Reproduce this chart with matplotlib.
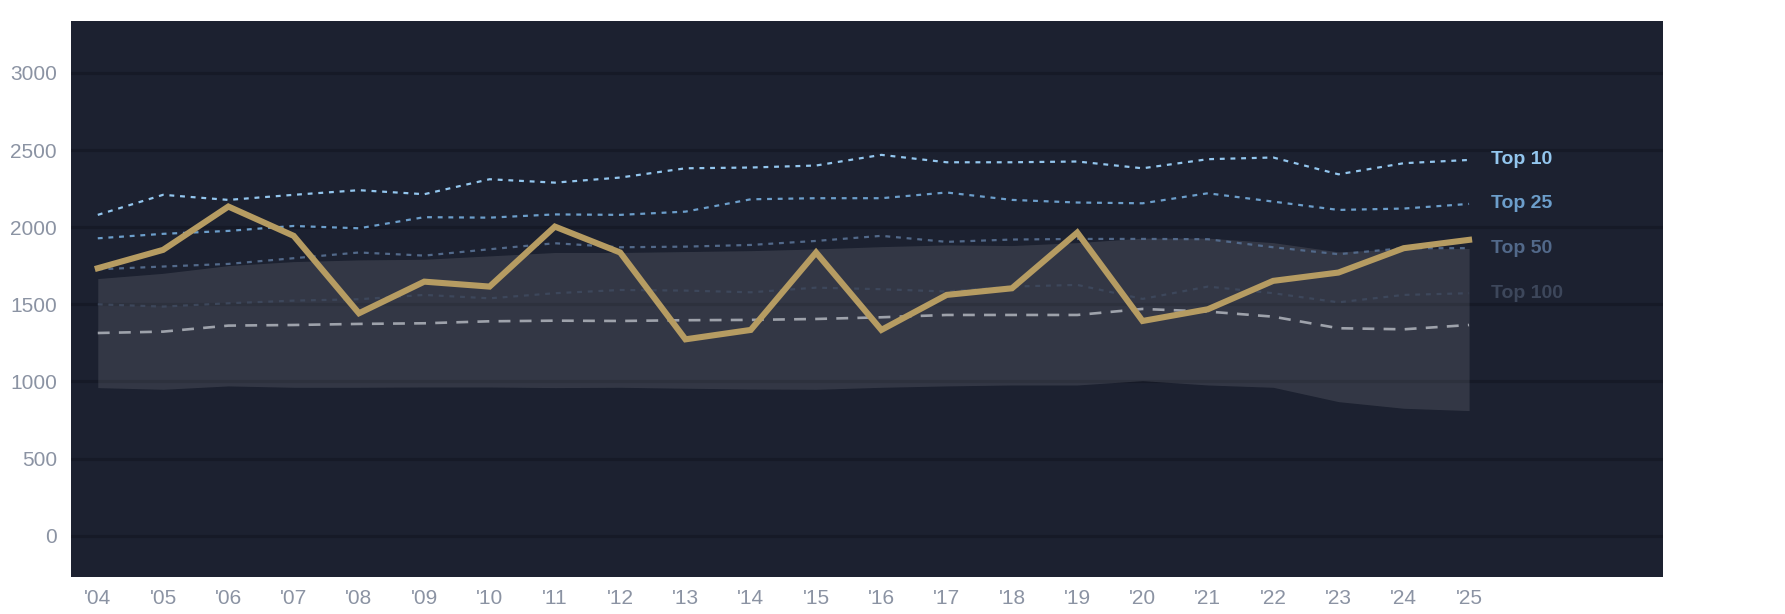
import numpy as np
import matplotlib
matplotlib.use("Agg")
import matplotlib.pyplot as plt

plt.rcParams["font.family"] = ["Liberation Sans", "DejaVu Sans"]

years = list(range(2004, 2026))
year_labels = ["'{:02d}".format(y % 100) for y in years]

top10 = [2080, 2210, 2177, 2210, 2240, 2214, 2311, 2289, 2322, 2382, 2387,
         2400, 2469, 2421, 2421, 2426, 2382, 2441, 2452, 2343, 2415, 2436]
top25 = [1928, 1957, 1976, 2008, 1993, 2065, 2062, 2083, 2080, 2101, 2181,
         2188, 2188, 2225, 2177, 2160, 2155, 2220, 2166, 2112, 2121, 2151]
top50 = [1727, 1745, 1762, 1799, 1836, 1816, 1857, 1896, 1870, 1874, 1885,
         1911, 1944, 1905, 1920, 1924, 1924, 1922, 1870, 1825, 1864, 1864]
top100 = [1500, 1485, 1507, 1524, 1533, 1561, 1539, 1572, 1593, 1589, 1578,
          1608, 1598, 1583, 1615, 1626, 1535, 1615, 1572, 1513, 1561, 1572]
median = [1314, 1323, 1362, 1366, 1373, 1377, 1390, 1394, 1392, 1397, 1399,
          1405, 1416, 1431, 1431, 1431, 1470, 1453, 1420, 1345, 1338, 1366]
band_hi = [1667, 1701, 1751, 1777, 1788, 1792, 1814, 1836, 1836, 1842, 1848,
           1859, 1874, 1885, 1881, 1900, 1929, 1929, 1900, 1840, 1860, 1862]
band_lo = [960, 949, 971, 962, 962, 964, 964, 960, 962, 956, 951,
           949, 962, 971, 977, 977, 1005, 977, 962, 869, 826, 811]
player = [1734, 1853, 2134, 1944, 1442, 1647, 1615, 2004, 1836, 1273, 1334,
          1836, 1334, 1561, 1604, 1965, 1392, 1468, 1652, 1706, 1864, 1918]

tier_names = ["Top 10", "Top 25", "Top 50", "Top 100"]
tier_colors = ["#93c6ee", "#6c9ecb", "#52698a", "#3d475b"]

bg = "#1c2130"
fig = plt.figure(figsize=(17.85, 6.14), dpi=100)
ax = fig.add_axes([71 / 1785, 1 - 577 / 614, 1592 / 1785, 556 / 614])
ax.set_facecolor(bg)

ax.fill_between(years, band_lo, band_hi, color="white", alpha=0.1, lw=0, zorder=2)

for vals, col in zip([top10, top25, top50, top100], tier_colors):
    ax.plot(years, vals, color=col, lw=1.6, ls=(0, (2.2, 2.6)), zorder=3)
ax.plot(years, median, color="#9ea2ab", lw=1.9, ls=(0, (4.5, 3.5)), zorder=3)
ax.plot(years, player, color="#b69c62", lw=4.4, solid_joinstyle="miter", zorder=4)

for name, vals, col in zip(tier_names, [top10, top25, top50, top100], tier_colors):
    ax.text(years[-1] + 0.34, vals[-1], name, color=col, fontsize=14,
            fontweight="bold", va="center", ha="left", zorder=5)

ax.set_xlim(2003.59, 2027.97)
ax.set_ylim(-268, 3337)
ax.set_yticks(range(0, 3001, 500))
ax.set_xticks(years)
ax.set_xticklabels(year_labels)
ax.grid(axis="y", color="#161a27", lw=2.2, zorder=1)
ax.set_axisbelow(True)
ax.tick_params(axis="both", length=0, colors="#8b93a3", labelsize=15)
ax.tick_params(axis="y", pad=10)
ax.tick_params(axis="x", pad=9)
for s in ax.spines.values():
    s.set_visible(False)

fig.savefig("out.png", dpi=100, facecolor="white")
